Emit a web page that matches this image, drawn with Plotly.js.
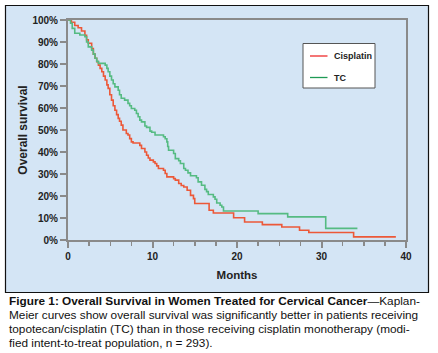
<!DOCTYPE html>
<html>
<head>
<meta charset="utf-8">
<script src="https://cdn.plot.ly/plotly-3.0.1.min.js"></script>
<style>
html,body{margin:0;padding:0;background:#fff;}
#chart{width:438px;height:353px;}
</style>
</head>
<body>
<div id="chart"></div>
<script>
// ---- data ----
const seriesNames = ['Cisplatin', 'TC'];

const cisMonths = [0, 0.4, 0.8, 1.2, 1.6, 2.0, 2.2, 2.4, 2.8, 3.0, 3.2, 3.4, 3.6, 3.8, 4.0, 4.2, 4.4, 4.6, 4.75, 4.95,
  5.15, 5.35, 5.55, 5.75, 5.94, 6.1, 6.3, 6.5, 6.9, 7.1, 7.3, 7.5, 7.7, 8.5, 8.7, 9.1, 9.3, 9.5, 9.7, 10.1,
  10.3, 10.5, 10.7, 11.3, 11.5, 11.7, 12.5, 12.7, 13.1, 13.4, 13.7, 14.1, 14.5, 14.85, 15.0, 16.7, 17.2, 19.6, 20.9, 23.0,
  25.3, 27.4, 28.5, 33.8, 38.8];
const cisSurv = [100, 99, 97.5, 96.5, 95, 93, 91, 89.4, 87, 84.5, 82.6, 81, 79.5, 78, 76.5, 74.5, 72.7, 70.5, 68.9, 66,
  63.6, 61, 59, 57, 55.3, 54, 52.2, 50, 48.4, 47.7, 46.1, 44.6, 44.1, 43, 41.6, 40, 38.5, 37.3, 36.3, 35.5,
  34.8, 33.7, 32.5, 31.7, 30.2, 28.7, 27.9, 27.2, 25.7, 24.8, 24.1, 22.6, 20.3, 18.8, 16.6, 13.5, 12.3, 10.1, 8.2, 7.0,
  5.9, 4.4, 3.4, 1.4, 1.4];

const tcMonths = [0, 0.3, 0.5, 0.8, 1.4, 2.0, 2.2, 2.4, 2.8, 3.0, 3.2, 3.4, 3.6, 4.4, 4.6, 4.75, 4.95, 5.15, 5.35, 5.55,
  5.94, 6.1, 6.3, 6.7, 7.1, 7.3, 7.5, 7.9, 8.1, 8.3, 8.5, 8.7, 9.1, 9.3, 9.7, 9.9, 10.3, 11.3, 11.5, 11.7,
  11.8, 11.9, 12.5, 12.7, 13.1, 13.3, 13.7, 13.9, 14.2, 14.5, 15.2, 15.4, 15.8, 16.2, 16.4, 16.6, 17.2, 17.4, 17.6, 18.0,
  18.2, 18.4, 22.5, 26.0, 30.5, 34.25];
const tcSurv = [100, 98.5, 96.2, 94, 93.2, 92.4, 90, 87.8, 86.3, 84.5, 82.6, 81.2, 80.3, 79.5, 78, 76.5, 74.5, 72.7, 71, 69.6,
  68.1, 66, 64.4, 63.6, 62.1, 61, 59.8, 59, 57.5, 56, 54.5, 53.7, 51.8, 51.2, 49.5, 49, 47.7, 46.9, 46, 44.6,
  42.5, 40.8, 39.3, 37, 36, 34.8, 32.5, 31.7, 30.5, 29.2, 28.3, 26.4, 24.9, 23, 22, 20.7, 19.6, 18.5, 16.8, 15.8,
  15, 13.2, 12, 10.5, 5.3, 5.3];

const yTickVals = [0, 10, 20, 30, 40, 50, 60, 70, 80, 90, 100];
const yTickLabels = ['0%', '10%', '20%', '30%', '40%', '50%', '60%', '70%', '80%', '90%', '100%'];
const xTickVals = [0, 10, 20, 30, 40];
const xTickLabels = ['0', '10', '20', '30', '40'];

const captionLines = [
  '<b>Figure 1: Overall Survival in Women Treated for Cervical Cancer</b>—Kaplan-',
  'Meier curves show overall survival was significantly better in patients receiving',
  'topotecan/cisplatin (TC) than in those receiving cisplatin monotherapy (modi-',
  'fied intent-to-treat population, n = 293).'
];

// ---- styling ----
const cisColor = '#ec5838';
const tcColor = '#55bb82';
const legCisColor = '#ee2b2b';
const legTcColor = '#1e9a55';
const bg = '#d4e5f5';
const axisGray = '#8a8a8a';
const FONT = 'Liberation Sans, Arial, sans-serif';

// plot area in pixels: x 68..406, y 20..240
const W = 438, H = 353, L = 68, R = 32, T = 20, B = 113;
const pw = W - L - R, ph = H - T - B;
const px = v => (v - L) / pw;
const py = v => (H - B - v) / ph;

const traces = [
  {x: cisMonths, y: cisSurv, name: seriesNames[0], type: 'scatter', mode: 'lines',
   line: {shape: 'hv', color: cisColor, width: 1.6}, showlegend: false},
  {x: tcMonths, y: tcSurv, name: seriesNames[1], type: 'scatter', mode: 'lines',
   line: {shape: 'hv', color: tcColor, width: 1.6}, showlegend: false}
];

const shapes = [
  {type: 'rect', xref: 'paper', yref: 'paper', layer: 'below',
   x0: px(5.5), x1: px(428.5), y0: py(292.5), y1: py(5.5),
   fillcolor: bg, line: {color: '#111', width: 1.2}},
  // legend box
  {type: 'rect', xref: 'paper', yref: 'paper',
   x0: px(303), x1: px(375), y0: py(88), y1: py(43.5),
   fillcolor: '#ffffff', line: {color: '#555', width: 1}},
  {type: 'line', xref: 'paper', yref: 'paper', x0: px(310), x1: px(327.5), y0: py(56), y1: py(56),
   line: {color: legCisColor, width: 1.3}},
  {type: 'line', xref: 'paper', yref: 'paper', x0: px(310), x1: px(327.5), y0: py(77.5), y1: py(77.5),
   line: {color: legTcColor, width: 1.3}}
];

const annotations = [
  {xref: 'paper', yref: 'paper', x: px(332), y: py(56), xanchor: 'left', yanchor: 'middle',
   text: '<b>' + seriesNames[0] + '</b>', showarrow: false, font: {family: FONT, size: 9, color: '#222'}},
  {xref: 'paper', yref: 'paper', x: px(332), y: py(77.5), xanchor: 'left', yanchor: 'middle',
   text: '<b>' + seriesNames[1] + '</b>', showarrow: false, font: {family: FONT, size: 9, color: '#222'}}
];
captionLines.forEach((t, i) => {
  annotations.push({xref: 'paper', yref: 'paper', x: px(6.5), y: py(300.7 + i * 14.2),
    xanchor: 'left', yanchor: 'middle', align: 'left', text: t, showarrow: false,
    font: {family: FONT, size: 11.8, color: '#111'}});
});

const layout = {
  width: W, height: H,
  margin: {l: L, r: R, t: T, b: B, pad: 0},
  paper_bgcolor: '#ffffff',
  plot_bgcolor: bg,
  showlegend: false,
  font: {family: FONT, color: '#222'},
  xaxis: {
    range: [0, 40], tickmode: 'array', tickvals: xTickVals, ticktext: xTickLabels,
    ticks: 'outside', ticklen: 6, tickwidth: 2, tickcolor: axisGray,
    showline: true, linecolor: axisGray, linewidth: 2, mirror: true, showgrid: false, zeroline: false,
    tickfont: {family: FONT, size: 10, color: '#222', weight: 'bold'},
    minor: {dtick: 2.5, tick0: 0, ticks: 'outside', ticklen: 4, tickwidth: 1.5, tickcolor: axisGray, showgrid: false},
    title: {text: '<b>Months</b>', font: {family: FONT, size: 11.5, color: '#222'}, standoff: 10},
    fixedrange: true
  },
  yaxis: {
    range: [0, 100], tickmode: 'array', tickvals: yTickVals, ticktext: yTickLabels,
    ticks: 'outside', ticklen: 6, tickwidth: 2, tickcolor: axisGray,
    showline: true, linecolor: axisGray, linewidth: 2, mirror: true, showgrid: false, zeroline: false,
    tickfont: {family: FONT, size: 10, color: '#222', weight: 'bold'},
    title: {text: '<b>Overall survival</b>', font: {family: FONT, size: 12, color: '#222'}, standoff: 2},
    fixedrange: true
  },
  shapes: shapes,
  annotations: annotations
};

Plotly.newPlot('chart', traces, layout, {displayModeBar: false, staticPlot: true});
</script>
</body>
</html>
